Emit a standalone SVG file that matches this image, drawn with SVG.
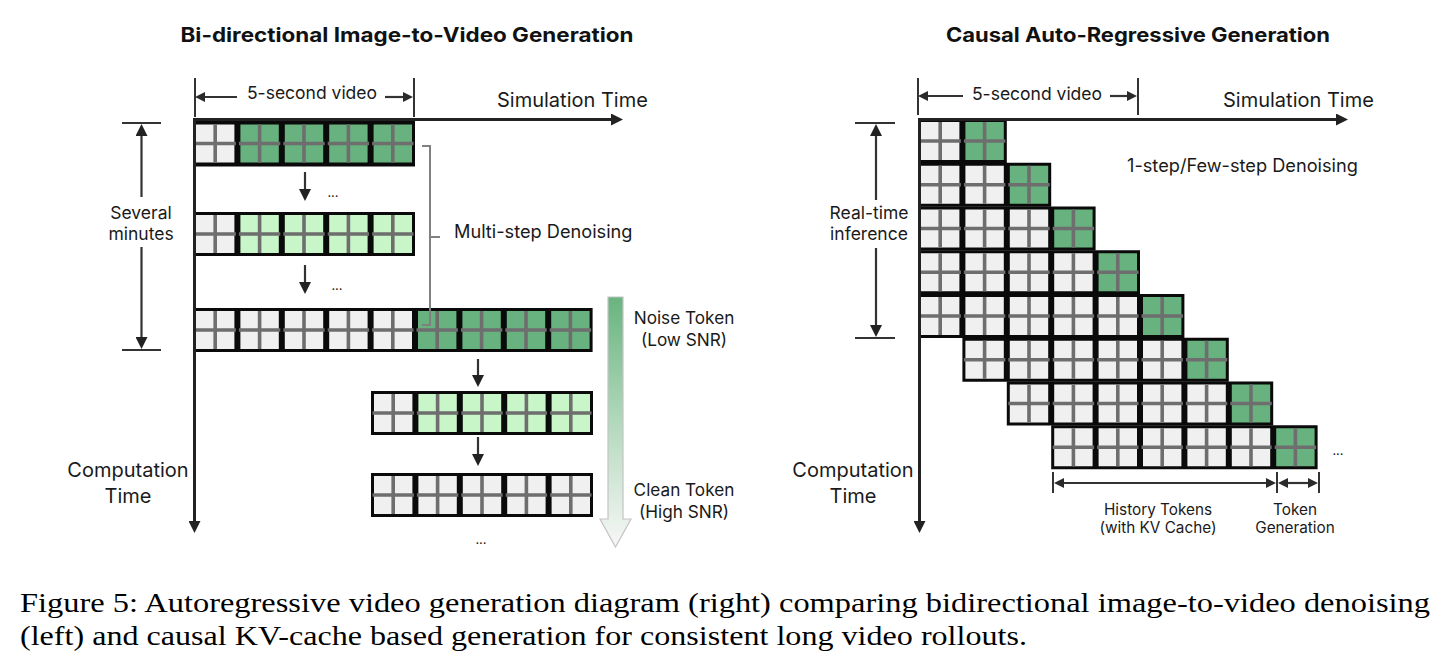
<svg xmlns="http://www.w3.org/2000/svg" xmlns:xlink="http://www.w3.org/1999/xlink" width="1445" height="669" viewBox="0 0 1445 669">
<style>
.t{font-family:Inter,"Noto Sans","Liberation Sans",sans-serif;fill:#1a1a1a}
.title{font-weight:700;font-size:20px;fill:#111}
.s5{font-size:17.5px}
.sd{font-size:18.2px}
.s16{font-size:17.5px}
.s17{font-size:17.2px}
.s15{font-size:15.3px}
.s18{font-size:20px}
.cap{font-family:"Liberation Serif","DejaVu Serif",serif;font-size:27.5px;fill:#000}
.row{fill:#0a0a0a}
.ax{stroke:#222;stroke-width:3;fill:none}
.dim{stroke:#333;stroke-width:2.2;fill:none}
.tk{stroke:#333;stroke-width:2;fill:none}
.br{stroke:#808080;stroke-width:2;fill:none}
.cx{stroke:#6e6e6e;stroke-width:3.6;fill:none}
</style>
<defs>
<marker id="ma" viewBox="0 0 12 12" refX="2" refY="6" markerWidth="12" markerHeight="12" markerUnits="userSpaceOnUse" orient="auto-start-reverse"><path d="M0,0 L12,6 L0,12 z" fill="#222"/></marker>
<marker id="md" viewBox="0 0 10 10" refX="1" refY="5" markerWidth="10" markerHeight="10" markerUnits="userSpaceOnUse" orient="auto-start-reverse"><path d="M0,0 L10,5 L0,10 z" fill="#2a2a2a"/></marker>
<linearGradient id="gr" x1="0" y1="0" x2="0" y2="1">
<stop offset="0" stop-color="#69b47f"/>
<stop offset="0.55" stop-color="#b9dcc2"/>
<stop offset="1" stop-color="#f7f7f7"/>
</linearGradient>
<g id="cg"><rect x="3" y="3" width="38.4" height="38" fill="#f0f0f0"/><path class="cx" d="M1.5,22 H42.9 M22.2,3 V41"/></g>
<g id="cd"><rect x="3" y="3" width="38.4" height="38" fill="#68b27f"/><path class="cx" d="M1.5,22 H42.9 M22.2,3 V41"/></g>
<g id="cl"><rect x="3" y="3" width="38.4" height="38" fill="#c9f6c9"/><path class="cx" d="M1.5,22 H42.9 M22.2,3 V41"/></g>
</defs>
<rect width="1445" height="669" fill="#fff"/>

<g id="left-title"><text class="t title" x="407" y="42" text-anchor="middle" textLength="453" lengthAdjust="spacingAndGlyphs">Bi-directional Image-to-Video Generation</text></g>
<g id="right-title"><text class="t title" x="1138" y="42" text-anchor="middle" textLength="384" lengthAdjust="spacingAndGlyphs">Causal Auto-Regressive Generation</text></g>

<g id="left-row1">
<rect class="row" x="193" y="118" width="222" height="48.5"/>
<use href="#cg" x="193" y="121.5"/><use href="#cd" x="237.4" y="121.5"/><use href="#cd" x="281.8" y="121.5"/><use href="#cd" x="326.2" y="121.5"/><use href="#cd" x="370.6" y="121.5"/>
</g>
<g id="left-row2">
<rect class="row" x="193" y="212" width="222" height="44"/>
<use href="#cg" x="193" y="212"/><use href="#cl" x="237.4" y="212"/><use href="#cl" x="281.8" y="212"/><use href="#cl" x="326.2" y="212"/><use href="#cl" x="370.6" y="212"/>
</g>
<g id="left-row3">
<rect class="row" x="193" y="308" width="399.6" height="44"/>
<use href="#cg" x="193" y="308"/><use href="#cg" x="237.4" y="308"/><use href="#cg" x="281.8" y="308"/><use href="#cg" x="326.2" y="308"/><use href="#cg" x="370.6" y="308"/>
<use href="#cd" x="415" y="308"/><use href="#cd" x="459.4" y="308"/><use href="#cd" x="503.8" y="308"/><use href="#cd" x="548.2" y="308"/>
</g>
<g id="left-row4">
<rect class="row" x="371" y="391" width="222" height="44"/>
<use href="#cg" x="371" y="391"/><use href="#cl" x="415.4" y="391"/><use href="#cl" x="459.8" y="391"/><use href="#cl" x="504.2" y="391"/><use href="#cl" x="548.6" y="391"/>
</g>
<g id="left-row5">
<rect class="row" x="371" y="473" width="222" height="44"/>
<use href="#cg" x="371" y="473"/><use href="#cg" x="415.4" y="473"/><use href="#cg" x="459.8" y="473"/><use href="#cg" x="504.2" y="473"/><use href="#cg" x="548.6" y="473"/>
</g>

<g id="noise-gradient">
<path d="M608,297 H623 V519 H631 L615.5,547 L600,519 H608 Z" fill="url(#gr)" stroke="#c4c4c4" stroke-width="1.2"/>
</g>

<g id="right-row0">
<rect class="row" x="918" y="119" width="88.8" height="44"/>
<use href="#cg" x="918" y="119"/><use href="#cd" x="962.4" y="119"/>
</g>
<g id="right-row1">
<rect class="row" x="918" y="162.75" width="133.2" height="44"/>
<use href="#cg" x="918" y="162.75"/><use href="#cg" x="962.4" y="162.75"/><use href="#cd" x="1006.8" y="162.75"/>
</g>
<g id="right-row2">
<rect class="row" x="918" y="206.5" width="177.6" height="44"/>
<use href="#cg" x="918" y="206.5"/><use href="#cg" x="962.4" y="206.5"/><use href="#cg" x="1006.8" y="206.5"/><use href="#cd" x="1051.2" y="206.5"/>
</g>
<g id="right-row3">
<rect class="row" x="918" y="250.25" width="222" height="44"/>
<use href="#cg" x="918" y="250.25"/><use href="#cg" x="962.4" y="250.25"/><use href="#cg" x="1006.8" y="250.25"/><use href="#cg" x="1051.2" y="250.25"/><use href="#cd" x="1095.6" y="250.25"/>
</g>
<g id="right-row4">
<rect class="row" x="918" y="294" width="266.4" height="44"/>
<use href="#cg" x="918" y="294"/><use href="#cg" x="962.4" y="294"/><use href="#cg" x="1006.8" y="294"/><use href="#cg" x="1051.2" y="294"/><use href="#cg" x="1095.6" y="294"/><use href="#cd" x="1140" y="294"/>
</g>
<g id="right-row5">
<rect class="row" x="962.4" y="337.75" width="266.4" height="44"/>
<use href="#cg" x="962.4" y="337.75"/><use href="#cg" x="1006.8" y="337.75"/><use href="#cg" x="1051.2" y="337.75"/><use href="#cg" x="1095.6" y="337.75"/><use href="#cg" x="1140" y="337.75"/><use href="#cd" x="1184.4" y="337.75"/>
</g>
<g id="right-row6">
<rect class="row" x="1006.8" y="381.5" width="266.4" height="44"/>
<use href="#cg" x="1006.8" y="381.5"/><use href="#cg" x="1051.2" y="381.5"/><use href="#cg" x="1095.6" y="381.5"/><use href="#cg" x="1140" y="381.5"/><use href="#cg" x="1184.4" y="381.5"/><use href="#cd" x="1228.8" y="381.5"/>
</g>
<g id="right-row7">
<rect class="row" x="1051.2" y="425.25" width="266.4" height="44"/>
<use href="#cg" x="1051.2" y="425.25"/><use href="#cg" x="1095.6" y="425.25"/><use href="#cg" x="1140" y="425.25"/><use href="#cg" x="1184.4" y="425.25"/><use href="#cg" x="1228.8" y="425.25"/><use href="#cd" x="1273.2" y="425.25"/>
</g>

<g id="connectors">
<path class="ax" d="M194.5,118 V523" marker-end="url(#ma)"/>
<path class="ax" d="M193,119.5 H613" marker-end="url(#ma)"/>
<path class="ax" d="M919.5,118 V523" marker-end="url(#ma)"/>
<path class="ax" d="M918,119.5 H1338" marker-end="url(#ma)"/>

<path class="tk" d="M195,78 V117 M414,78 V117"/>
<path class="dim" d="M237,97 H204" marker-end="url(#md)"/>
<path class="dim" d="M385,97 H404" marker-end="url(#md)"/>
<path class="tk" d="M918,78 V115 M1138,78 V115"/>
<path class="dim" d="M963,96 H927" marker-end="url(#md)"/>
<path class="dim" d="M1110,96 H1128" marker-end="url(#md)"/>

<path class="tk" d="M122,123 H161 M122,350 H161"/>
<path class="dim" d="M141.5,197 V134" marker-end="url(#ma)"/>
<path class="dim" d="M141.5,247 V339" marker-end="url(#ma)"/>
<path class="tk" d="M855,123 H895 M855,338 H895"/>
<path class="dim" d="M876,200 V134" marker-end="url(#ma)"/>
<path class="dim" d="M876,248 V327" marker-end="url(#ma)"/>

<path class="dim" d="M305,172 V191" marker-end="url(#ma)"/>
<path class="dim" d="M305,265 V284" marker-end="url(#ma)"/>
<path class="dim" d="M478,359 V377" marker-end="url(#ma)"/>
<path class="dim" d="M478,437 V456" marker-end="url(#ma)"/>

<path class="br" d="M422,146 H430 V325 H422 M430,237 H440"/>

<path class="tk" d="M1053,472 V493 M1277,472 V493 M1319,472 V493"/>
<path class="dim" d="M1063,483 H1267" marker-start="url(#md)" marker-end="url(#md)"/>
<path class="dim" d="M1287,483 H1309" marker-start="url(#md)" marker-end="url(#md)"/>
</g>

<g id="labels">
<text class="t s5" x="312" y="99" text-anchor="middle">5-second video</text>
<text class="t s5" x="1037" y="100" text-anchor="middle">5-second video</text>
<text class="t s18" x="497" y="107">Simulation Time</text>
<text class="t s18" x="1223" y="107">Simulation Time</text>
<text class="t sd" x="454" y="238">Multi-step Denoising</text>
<text class="t sd" x="1127" y="172">1-step/Few-step Denoising</text>
<text class="t s16" x="141" y="219" text-anchor="middle">Several</text>
<text class="t s16" x="141" y="240" text-anchor="middle">minutes</text>
<text class="t s16" x="869" y="219" text-anchor="middle">Real-time</text>
<text class="t s16" x="869" y="240" text-anchor="middle">inference</text>
<text class="t s17" x="684" y="324" text-anchor="middle">Noise Token</text>
<text class="t s17" x="684" y="346" text-anchor="middle">(Low SNR)</text>
<text class="t s17" x="684" y="496" text-anchor="middle">Clean Token</text>
<text class="t s17" x="684" y="518" text-anchor="middle">(High SNR)</text>
<text class="t s18" x="128" y="477" text-anchor="middle">Computation</text>
<text class="t s18" x="128" y="503" text-anchor="middle">Time</text>
<text class="t s18" x="853" y="477" text-anchor="middle">Computation</text>
<text class="t s18" x="853" y="503" text-anchor="middle">Time</text>
<text class="t s15" x="1158" y="515" text-anchor="middle">History Tokens</text>
<text class="t s15" x="1158" y="533" text-anchor="middle">(with KV Cache)</text>
<text class="t s15" x="1295" y="515" text-anchor="middle">Token</text>
<text class="t s15" x="1295" y="533" text-anchor="middle">Generation</text>
<text class="t" font-size="13" x="333" y="197" text-anchor="middle">...</text>
<text class="t" font-size="13" x="337" y="290" text-anchor="middle">...</text>
<text class="t" font-size="13" x="481" y="544" text-anchor="middle">...</text>
<text class="t" font-size="13" x="1338" y="455" text-anchor="middle">...</text>
</g>

<g id="caption">
<text class="cap" x="20" y="612" textLength="1410" lengthAdjust="spacingAndGlyphs">Figure 5: Autoregressive video generation diagram (right) comparing bidirectional image-to-video denoising</text>
<text class="cap" x="20" y="645" textLength="1007" lengthAdjust="spacingAndGlyphs">(left) and causal KV-cache based generation for consistent long video rollouts.</text>
</g>
</svg>
